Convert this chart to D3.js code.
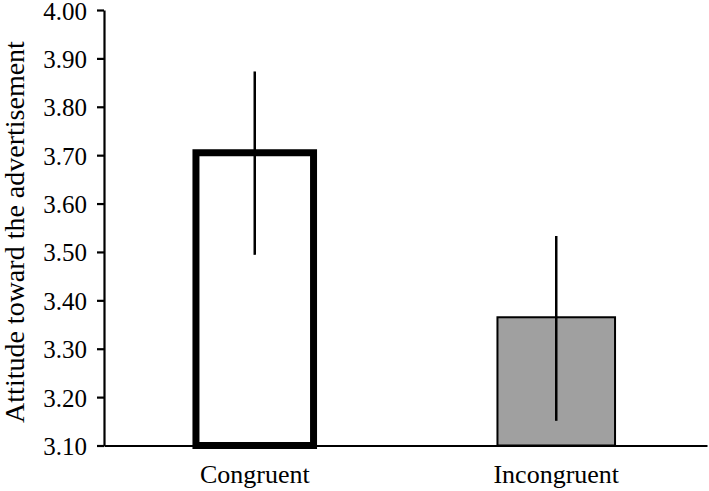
<!DOCTYPE html>
<html>
<head>
<meta charset="utf-8">
<script src="https://cdn.jsdelivr.net/npm/d3@7"></script>
<style>
  body { margin: 0; background: #fff; }
</style>
</head>
<body>
<div class="svg-container"></div>
<script>
// data
const categories = ["Congruent", "Incongruent"];
const means = [3.705, 3.365];
const err_low = [3.494, 3.151];
const err_high = [3.873, 3.533];
const y_ticks = [3.1, 3.2, 3.3, 3.4, 3.5, 3.6, 3.7, 3.8, 3.9, 4.0];
const bar_fills = ["#ffffff", "#a0a0a0"];
const bar_strokes = [7, 2];
const y_title = "Attitude toward the advertisement";

const serif_font = "'Liberation Serif'";

function load_contents(){
  const width = 709;
  const height = 491;
  const axis_left = 104;
  const axis_right = 707;
  const axis_top = 10;
  const axis_bottom = 445.5;

  let svg = d3.select(".svg-container")
    .append("svg")
    .attr("width", width)
    .attr("height", height);

  let xScale = d3.scaleBand()
    .domain(categories)
    .range([axis_left, axis_right])
    .paddingInner(0.61)
    .paddingOuter(0.305);

  let yScale = d3.scaleLinear()
    .domain([3.1, 4.0])
    .range([axis_bottom, axis_top]);

  let rows = categories.map((c, i) => ({
    cat: c, mean: means[i], lo: err_low[i], hi: err_high[i],
    fill: bar_fills[i], sw: bar_strokes[i]
  }));

  // bars
  svg.append("g").selectAll("rect")
    .data(rows)
    .enter()
    .append("rect")
    .attr("x", d => xScale(d.cat))
    .attr("y", d => yScale(d.mean))
    .attr("width", xScale.bandwidth())
    .attr("height", d => yScale(3.1) - yScale(d.mean))
    .attr("fill", d => d.fill)
    .attr("stroke", "#000")
    .attr("stroke-width", d => d.sw);

  // error bars, no caps
  svg.append("g").selectAll("line")
    .data(rows)
    .enter()
    .append("line")
    .attr("x1", d => xScale(d.cat) + xScale.bandwidth() / 2)
    .attr("x2", d => xScale(d.cat) + xScale.bandwidth() / 2)
    .attr("y1", d => yScale(d.lo))
    .attr("y2", d => yScale(d.hi))
    .attr("stroke", "#000")
    .attr("stroke-width", 2.5);

  // y axis
  let gYaxis = svg.append("g")
    .attr("transform", "translate(" + axis_left + ",0)")
    .call(d3.axisLeft(yScale)
      .tickValues(y_ticks)
      .tickFormat(d3.format(".2f"))
      .tickSize(7)
      .tickSizeOuter(0)
      .tickPadding(10));
  gYaxis.attr("font-family", null).attr("font-size", null);
  gYaxis.select(".domain").attr("stroke", "#000").attr("stroke-width", 2.2);
  gYaxis.selectAll(".tick line").attr("stroke", "#000").attr("stroke-width", 2.2);
  gYaxis.selectAll(".tick text")
    .style("font-family", serif_font)
    .style("font-size", "25px")
    .attr("dy", "0.36em")
    .attr("fill", "#000");

  // x axis line only
  let gXaxis = svg.append("g")
    .attr("transform", "translate(0," + axis_bottom + ")")
    .call(d3.axisBottom(xScale).tickSize(0).tickSizeOuter(0));
  gXaxis.attr("font-family", null).attr("font-size", null);
  gXaxis.select(".domain").attr("stroke", "#000").attr("stroke-width", 2.2);
  gXaxis.selectAll(".tick text")
    .style("font-family", serif_font)
    .style("font-size", "26px")
    .attr("y", 37.5)
    .attr("dy", 0)
    .attr("fill", "#000");

  // y title
  svg.append("text")
    .attr("transform", "translate(24," + 232 + ") rotate(-90)")
    .attr("text-anchor", "middle")
    .style("font-family", serif_font)
    .style("font-size", "28px")
    .attr("fill", "#000")
    .text(y_title);
}

load_contents();
</script>
</body>
</html>
